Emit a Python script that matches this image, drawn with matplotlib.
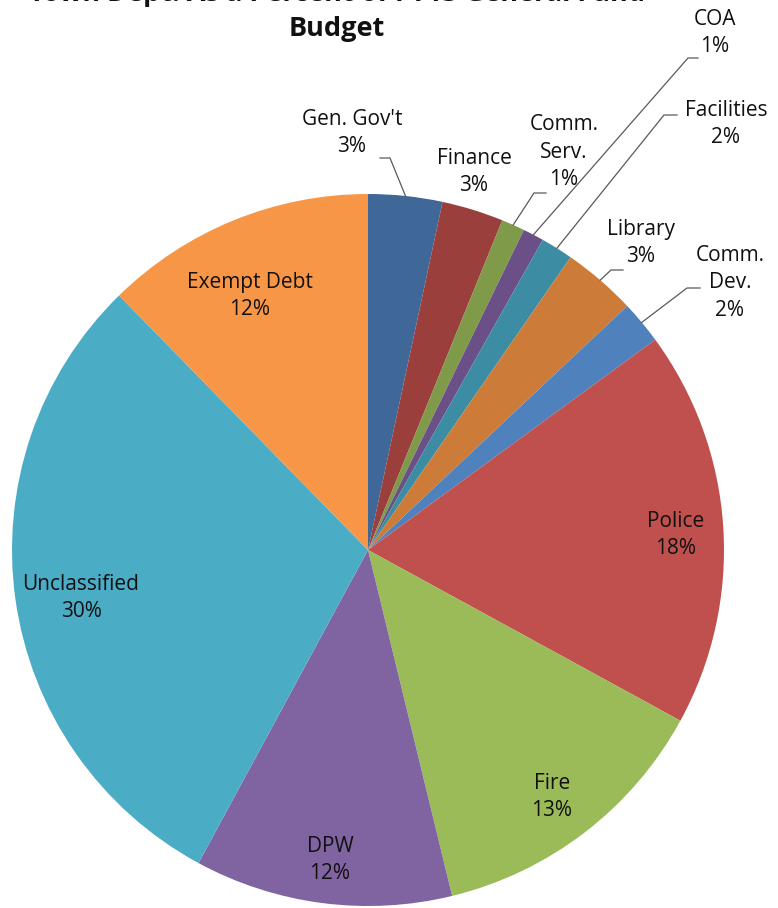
import matplotlib
matplotlib.use("Agg")
import matplotlib.pyplot as plt
import numpy as np

departments = ["Gen. Gov't", "Finance", "Comm.\nServ.", "COA", "Facilities", "Library",
               "Comm.\nDev.", "Police", "Fire", "DPW", "Unclassified", "Exempt Debt"]
shares = [3.36, 2.80, 1.06, 0.95, 1.47, 3.35, 1.96, 18.03, 13.25, 11.70, 29.80, 12.33]
pct_labels = ["3%", "3%", "1%", "1%", "2%", "3%", "2%", "18%", "13%", "12%", "30%", "12%"]
colors = ["#3F6797", "#9B3F3D", "#7F9A48", "#6A5087", "#3C8DA3", "#CC7B38",
          "#4F81BD", "#C0504D", "#9BBB59", "#8064A2", "#4BACC6", "#F79646"]
title_lines = ["Town Dept. As a Percent of FY13 General Fund", "Budget"]

W, H = 778, 908
CX, CY, R = 368, 550, 356

fig = plt.figure(figsize=(W / 100, H / 100), dpi=100)
ax = fig.add_axes([0, 0, 1, 1])

FONT = ["Open Sans", "DejaVu Sans"]

def px(x, y):
    return ((x - CX) / R, (CY - y) / R)

wedges, _ = ax.pie(shares, colors=colors, startangle=90, counterclock=False,
                   radius=1.0, center=(0, 0), frame=True,
                   wedgeprops=dict(linewidth=0))
ax.set_xlim(-CX / R, (W - CX) / R)
ax.set_ylim((CY - H) / R, CY / R)
ax.set_aspect("auto")
ax.axis("off")

# label placement (pixel positions of label centres) and leader elbows
label_pos = {
    0: (352, 133), 1: (474, 172), 2: (564, 152), 3: (715, 33), 4: (726, 124),
    5: (641, 243), 6: (730, 283), 7: (676, 535), 8: (552, 797), 9: (330, 860),
    10: (81, 598), 11: (250, 296),
}
leaders = {
    0: [(380, 158), (390, 158)],
    2: [(546, 193), (534, 193)],
    3: [(698, 58), (688, 58)],
    4: [(677, 115), (664, 115)],
    5: [(623, 270), (611, 270)],
    6: [(700, 288), (687, 288)],
}

total = sum(shares)
cum = 0.0
for i, (name, s) in enumerate(zip(departments, shares)):
    mid = cum + s / 2
    cum += s
    ang = np.deg2rad(90 - 360 * mid / total)
    tx, ty = px(*label_pos[i])
    ax.text(tx, ty, f"{name}\n{pct_labels[i]}", ha="center", va="center",
            fontsize=15, family=FONT, color="#111111", linespacing=1.42)
    if i in leaders:
        pts = [px(*p) for p in leaders[i]]
        pts.append((np.cos(ang) * 1.0, np.sin(ang) * 1.0))
        xs, ys = zip(*pts)
        ax.plot(xs, ys, color="#595959", lw=0.9)

tx, ty = px(337, -6)
ax.text(tx, ty, title_lines[0], ha="center", va="center",
        fontsize=19.5, fontweight="bold", family=FONT, color="#111111")
tx, ty = px(337, 29)
ax.text(tx, ty, title_lines[1], ha="center", va="center",
        fontsize=19.5, fontweight="bold", family=FONT, color="#111111")

fig.savefig("out.png", dpi=100)
